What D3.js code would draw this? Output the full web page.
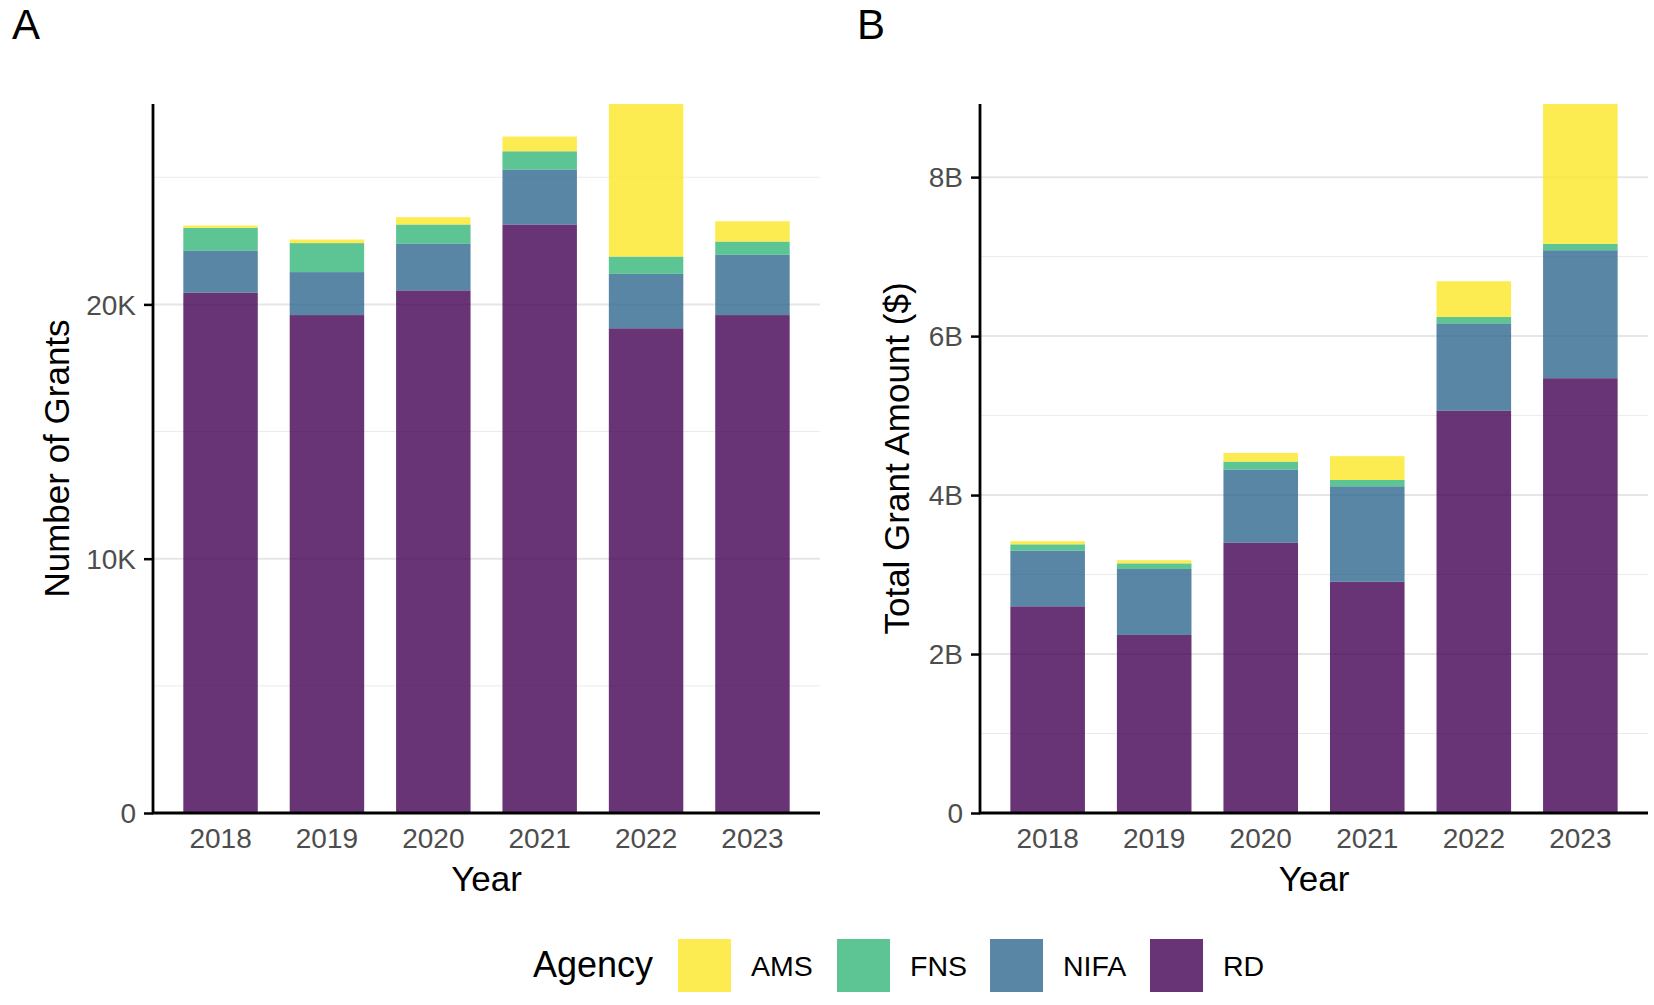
<!DOCTYPE html>
<html>
<head>
<meta charset="utf-8">
<script src="https://cdn.jsdelivr.net/npm/d3@7"></script>
<style>
  body { margin: 0; background: #fff; }
  svg text { font-family: "Liberation Sans", Arial, sans-serif; }
</style>
</head>
<body>
<svg id="chart" width="1654" height="1005"></svg>
<script>
// years on the x axis
const years = ["2018", "2019", "2020", "2021", "2022", "2023"];

// agencies, bottom of the stack first
const agencies = ["RD", "NIFA", "FNS", "AMS"];
const legendOrder = ["AMS", "FNS", "NIFA", "RD"];
const agencyColors = ["#440154", "#31688E", "#35B779", "#FDE725"];

// panel A: number of grants
const grantsRD   = [20460, 19580, 20550, 23140, 19060, 19580];
const grantsNIFA = [1660, 1690, 1830, 2160, 2140, 2370];
const grantsFNS  = [890, 1140, 760, 720, 680, 520];
const grantsAMS  = [90, 140, 290, 580, 6000, 800];

// panel B: total grant amount in dollars
const amountRD   = [2.60e9, 2.24e9, 3.40e9, 2.91e9, 5.06e9, 5.47e9];
const amountNIFA = [0.70e9, 0.83e9, 0.92e9, 1.20e9, 1.10e9, 1.61e9];
const amountFNS  = [0.08e9, 0.07e9, 0.10e9, 0.08e9, 0.08e9, 0.08e9];
const amountAMS  = [0.04e9, 0.04e9, 0.11e9, 0.30e9, 0.45e9, 1.76e9];

// tick labels
const grantMajor = [0, 10000, 20000];
const grantMinor = [5000, 15000, 25000];
const grantLabels = ["0", "10K", "20K"];
const amountMajor = [0, 2e9, 4e9, 6e9, 8e9];
const amountMinor = [1e9, 3e9, 5e9, 7e9];
const amountLabels = ["0", "2B", "4B", "6B", "8B"];

const color = d3.scaleOrdinal().domain(agencies).range(agencyColors);
const svg = d3.select("#chart");

// builds rows of {year, RD, NIFA, ...} for d3.stack
function rows(series) {
  return years.map((y, i) => {
    const r = { year: y };
    agencies.forEach((a, k) => { r[a] = series[k][i]; });
    return r;
  });
}

function drawPanel(opts) {
  const top = 104, bottom = 813;
  const data = rows(opts.series);
  const stacked = d3.stack().keys(agencies)(data);
  const maxTotal = d3.max(stacked[stacked.length - 1], d => d[1]);

  const x = d3.scaleBand().domain(years)
    .range([opts.left, opts.right])
    .paddingInner(0.3).paddingOuter(0.285);
  const y = d3.scaleLinear().domain([0, maxTotal]).range([bottom, top]);

  const g = svg.append("g");

  // grid lines, minor ones thinner
  g.append("g").selectAll("line").data(opts.minor).join("line")
    .attr("x1", opts.left).attr("x2", opts.right)
    .attr("y1", d => y(d)).attr("y2", d => y(d))
    .attr("stroke", "#ebebeb").attr("stroke-width", 1);
  g.append("g").selectAll("line").data(opts.major.slice(1)).join("line")
    .attr("x1", opts.left).attr("x2", opts.right)
    .attr("y1", d => y(d)).attr("y2", d => y(d))
    .attr("stroke", "#e6e6e6").attr("stroke-width", 2);

  // stacked bars
  g.append("g").selectAll("g").data(stacked).join("g")
    .attr("fill", d => color(d.key))
    .attr("fill-opacity", 0.8)
    .selectAll("rect").data(d => d).join("rect")
      .attr("x", d => x(d.data.year))
      .attr("width", x.bandwidth())
      .attr("y", d => y(d[1]))
      .attr("height", d => y(d[0]) - y(d[1]));

  // y axis
  const yAxis = d3.axisLeft(y)
    .tickValues(opts.major)
    .tickFormat((d, i) => opts.labels[i])
    .tickSize(9).tickPadding(8);
  const ya = g.append("g").attr("transform", `translate(${opts.left},0)`).call(yAxis);
  ya.select(".domain").remove();
  ya.selectAll(".tick line").attr("stroke", "#000").attr("stroke-width", 2.5);
  ya.selectAll(".tick text").attr("fill", "#4d4d4d").attr("font-size", 28)
    .attr("dy", "0.35em");
  g.append("line")
    .attr("x1", opts.left).attr("x2", opts.left)
    .attr("y1", top).attr("y2", bottom + 1)
    .attr("stroke", "#000").attr("stroke-width", 2.8);

  // x axis, no tick marks
  const xAxis = d3.axisBottom(x).tickSize(0).tickPadding(15);
  const xa = g.append("g").attr("transform", `translate(0,${bottom})`).call(xAxis);
  xa.select(".domain").remove();
  xa.selectAll(".tick text").attr("fill", "#4d4d4d").attr("font-size", 28);
  g.append("line")
    .attr("x1", opts.left - 1).attr("x2", opts.right)
    .attr("y1", bottom).attr("y2", bottom)
    .attr("stroke", "#000").attr("stroke-width", 2.8);

  // titles
  g.append("text")
    .attr("x", (opts.left + opts.right) / 2).attr("y", 891)
    .attr("text-anchor", "middle").attr("font-size", 35).attr("fill", "#000")
    .text("Year");
  g.append("text")
    .attr("transform", `translate(${opts.titleX},${(top + bottom) / 2}) rotate(-90)`)
    .attr("text-anchor", "middle").attr("font-size", 35).attr("fill", "#000")
    .text(opts.yTitle);
  g.append("text")
    .attr("x", opts.tagX).attr("y", 39)
    .attr("font-size", 42).attr("fill", "#000")
    .text(opts.tag);
}

drawPanel({
  series: [grantsRD, grantsNIFA, grantsFNS, grantsAMS],
  left: 153, right: 820,
  major: grantMajor, minor: grantMinor, labels: grantLabels,
  yTitle: "Number of Grants", titleX: 69,
  tag: "A", tagX: 12
});

drawPanel({
  series: [amountRD, amountNIFA, amountFNS, amountAMS],
  left: 980, right: 1648,
  major: amountMajor, minor: amountMinor, labels: amountLabels,
  yTitle: "Total Grant Amount ($)", titleX: 909,
  tag: "B", tagX: 857
});

// legend along the bottom
const legend = svg.append("g");
legend.append("text")
  .attr("x", 533).attr("y", 977)
  .attr("font-size", 36).attr("fill", "#000")
  .text("Agency");
const keyX = [678, 837, 990, 1150];
const item = legend.selectAll("g.item").data(legendOrder).join("g")
  .attr("class", "item")
  .attr("transform", (d, i) => `translate(${keyX[i]},939)`);
item.append("rect")
  .attr("width", 53).attr("height", 53)
  .attr("fill", d => color(d)).attr("fill-opacity", 0.8);
item.append("text")
  .attr("x", 73).attr("y", 37)
  .attr("font-size", 28.5).attr("fill", "#000")
  .text(d => d);
</script>
</body>
</html>
